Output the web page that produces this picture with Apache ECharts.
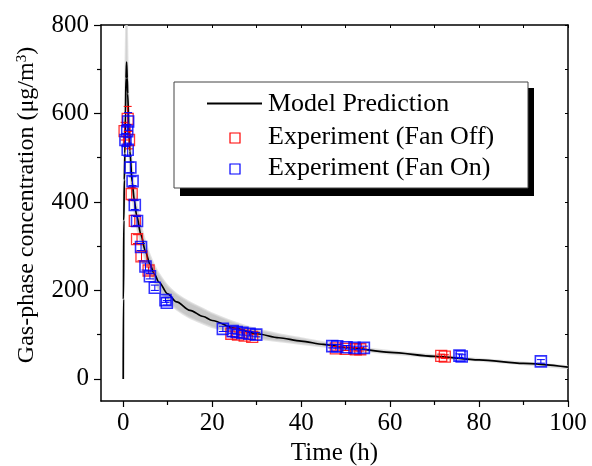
<!DOCTYPE html>
<html><head><meta charset="utf-8">
<script src="https://cdn.jsdelivr.net/npm/echarts@6/dist/echarts.min.js"></script>
<style>html,body{margin:0;padding:0;background:#fff}#c{width:592px;height:466px}</style>
</head><body><div id="c"></div>
<script>
// ---- data ----
const modelT = [0, 0.05, 0.13, 0.25, 0.37, 0.5, 0.62, 0.75, 0.9, 1.0, 1.25, 1.5, 2, 2.5, 3, 4, 5, 6, 7, 8, 10, 12, 15, 18, 20, 25, 30, 35, 40, 45, 50, 60, 70, 80, 90, 100];
const modelY = [0, 180, 358, 450, 510, 600, 680, 716, 680, 645, 575, 515, 445, 403, 370, 325, 288, 259, 237, 219, 192, 174, 155, 141, 132, 115, 102, 93, 85.5, 78, 71, 60, 51, 43, 35, 26.5];
const bandLo = [0, 150, 320, 410, 470, 560, 630, 670, 640, 600, 540, 482, 418, 378, 347, 305, 269, 241, 220, 202, 176, 157, 138, 125, 117, 103, 92, 85, 79, 73, 67, 57, 48.5, 41, 33, 24.5];
const bandHi = [0, 230, 420, 520, 600, 700, 780, 830, 760, 700, 615, 552, 475, 430, 395, 347, 309, 279, 256, 238, 210, 192, 173, 158, 148, 128, 112, 101, 92, 83, 75, 63, 53.5, 45, 37, 28.5];

const offT = [0.3, 1.0, 1.3, 1.9, 2.6, 3.1, 4.1, 5.7, 24.3, 25.8, 27.3, 29.0, 47.8, 50.0, 52.3, 53.3, 71.5, 72.3];
const offY = [560, 588, 540, 418, 357, 316, 277, 245, 102, 100, 98, 95, 69, 68, 67, 67, 52, 50.5];
const offErr = [20, 28, 20, 15, 12, 10, 10, 8, 6, 6, 6, 6, 4, 4, 4, 4, 4, 4];

const onT = [0.5, 0.9, 1.1, 1.0, 1.6, 2.1, 2.6, 3.1, 4.0, 5.0, 6.0, 7.1, 9.5, 9.8, 22.4, 24.6, 25.5, 26.8, 28.4, 29.9, 47.0, 48.1, 50.2, 52.0, 54.1, 75.6, 76.1, 93.9];
const onY = [540, 560, 582, 518, 478, 447, 393, 357, 298, 254, 232, 206, 178, 172, 113, 108, 106, 104, 102, 100, 74, 73.5, 71.5, 70, 70, 52.5, 50.5, 39.5];
const onErr = [15, 15, 20, 15, 12, 10, 10, 10, 8, 8, 6, 6, 5, 5, 6, 5, 5, 5, 5, 5, 4, 4, 4, 4, 4, 4, 4, 4];

const xMajor = [0, 20, 40, 60, 80, 100];
const xMinor = [10, 30, 50, 70, 90];
const xTop = [0, 10, 20, 30, 40, 50, 60, 70, 80, 90, 100];
const yMajor = [0, 200, 400, 600, 800];
const yMinor = [100, 300, 500, 700];
const yRight = [0, 100, 200, 300, 400, 500, 600, 700, 800];

const legendNames = ['Model Prediction', 'Experiment (Fan Off)', 'Experiment (Fan On)'];
// ---------------

const FONT = 'Liberation Serif';
const chart = echarts.init(document.getElementById('c'), null, {renderer: 'canvas'});

function errRender(color) {
  return function (params, api) {
    const x = api.value(0), y = api.value(1), e = api.value(2);
    const t = api.coord([x, y + e]), b = api.coord([x, y - e]);
    const hw = 4;
    const st = {stroke: color, lineWidth: 1, fill: null};
    return {type: 'group', children: [
      {type: 'line', shape: {x1: t[0], y1: t[1], x2: b[0], y2: b[1]}, style: st},
      {type: 'line', shape: {x1: t[0] - hw, y1: t[1], x2: t[0] + hw, y2: t[1]}, style: st},
      {type: 'line', shape: {x1: b[0] - hw, y1: b[1], x2: b[0] + hw, y2: b[1]}, style: st}
    ]};
  };
}

const axisLineStyle = {color: '#000', width: 1.5};
const option = {
  animation: false,
  backgroundColor: '#fff',
  grid: {left: 101, right: 24, top: 25, bottom: 65, containLabel: false, outerBoundsMode: 'none'},
  xAxis: [
    {type: 'value', min: -5, max: 100, position: 'bottom',
      axisLine: {show: true, onZero: false, lineStyle: axisLineStyle},
      axisTick: {show: true, customValues: xMajor, length: 6, lineStyle: {color: '#000', width: 1.2}},
      axisLabel: {customValues: xMajor, margin: 10, color: '#000', fontFamily: FONT, fontSize: 25},
      splitLine: {show: false},
      name: 'Time (h)', nameLocation: 'middle', nameGap: 40,
      nameTextStyle: {color: '#000', fontFamily: FONT, fontSize: 25}},
    {type: 'value', min: -5, max: 100, position: 'bottom',
      axisLine: {show: false, onZero: false},
      axisTick: {show: true, customValues: xMinor, length: 4, lineStyle: {color: '#000', width: 1.2}},
      axisLabel: {show: false}, splitLine: {show: false}},
    {type: 'value', min: -5, max: 100, position: 'top',
      axisLine: {show: true, onZero: false, lineStyle: axisLineStyle},
      axisTick: {show: true, inside: true, customValues: xTop, length: 3, lineStyle: {color: '#000', width: 1}},
      axisLabel: {show: false}, splitLine: {show: false}}
  ],
  yAxis: [
    {type: 'value', min: -50, max: 800, position: 'left',
      axisLine: {show: true, onZero: false, lineStyle: axisLineStyle},
      axisTick: {show: true, customValues: yMajor, length: 7, lineStyle: {color: '#000', width: 1.2}},
      axisLabel: {customValues: yMajor, margin: 12, color: '#000', fontFamily: FONT, fontSize: 25},
      splitLine: {show: false}},
    {type: 'value', min: -50, max: 800, position: 'left',
      axisLine: {show: false, onZero: false},
      axisTick: {show: true, customValues: yMinor, length: 4, lineStyle: {color: '#000', width: 1.2}},
      axisLabel: {show: false}, splitLine: {show: false}},
    {type: 'value', min: -50, max: 800, position: 'right',
      axisLine: {show: true, onZero: false, lineStyle: axisLineStyle},
      axisTick: {show: true, inside: true, customValues: yRight, length: 3, lineStyle: {color: '#000', width: 1}},
      axisLabel: {show: false}, splitLine: {show: false}}
  ],
  series: [
    {type: 'custom', name: 'band', xAxisIndex: 0, yAxisIndex: 0, clip: true, silent: true, z: 1,
      data: modelT.map((t, i) => [t, bandLo[i], bandHi[i]]),
      renderItem: function (params, api) {
        if (params.dataIndex !== 0) return null;
        const pts = [];
        for (let i = 0; i < modelT.length; i++) pts.push(api.coord([modelT[i], bandHi[i]]));
        for (let i = modelT.length - 1; i >= 0; i--) pts.push(api.coord([modelT[i], bandLo[i]]));
        return {type: 'polygon', shape: {points: pts, smooth: 0.2}, style: {fill: 'rgba(185,185,185,0.8)', stroke: 'rgba(215,215,215,0.7)', lineWidth: 2}};
      }},
    {type: 'line', name: legendNames[0], xAxisIndex: 0, yAxisIndex: 0, z: 3,
      data: modelT.map((t, i) => [t, modelY[i]]),
      showSymbol: false, symbol: 'none', smooth: 0.3, smoothMonotone: 'x', clip: true,
      lineStyle: {color: '#000', width: 1.7}},
    {type: 'custom', name: 'offErr', xAxisIndex: 0, yAxisIndex: 0, z: 4, clip: true,
      data: offT.map((t, i) => [t, offY[i], offErr[i]]), renderItem: errRender('#ff0000')},
    {type: 'scatter', name: legendNames[1], xAxisIndex: 0, yAxisIndex: 0, z: 4,
      data: offT.map((t, i) => [t, offY[i]]), symbol: 'rect', symbolSize: 11,
      itemStyle: {color: 'rgba(0,0,0,0)', borderColor: '#ff0000', borderWidth: 1.3}},
    {type: 'custom', name: 'onErr', xAxisIndex: 0, yAxisIndex: 0, z: 5, clip: true,
      data: onT.map((t, i) => [t, onY[i], onErr[i]]), renderItem: errRender('#0000ff')},
    {type: 'scatter', name: legendNames[2], xAxisIndex: 0, yAxisIndex: 0, z: 5,
      data: onT.map((t, i) => [t, onY[i]]), symbol: 'rect', symbolSize: 11,
      itemStyle: {color: 'rgba(0,0,0,0)', borderColor: '#0000ff', borderWidth: 1.6}}
  ],
  graphic: [
    {type: 'text', x: 27, y: 205, rotation: Math.PI / 2, z: 10,
      style: {text: 'Gas-phase concentration (μg/m{sup|3})', font: '24px "' + FONT + '"', fill: '#000',
        align: 'center', verticalAlign: 'middle',
        rich: {sup: {fontSize: 15, fontFamily: FONT, verticalAlign: 'top', fill: '#000', padding: [0, 0, 8, 0]}}}},
    {type: 'rect', z: 20, shape: {x: 180, y: 88, width: 354, height: 108}, style: {fill: '#000'}},
    {type: 'rect', z: 21, shape: {x: 174, y: 82, width: 354, height: 106}, style: {fill: '#fff', stroke: '#444', lineWidth: 1}},
    {type: 'line', z: 22, shape: {x1: 207, y1: 103.5, x2: 262, y2: 103.5}, style: {stroke: '#000', lineWidth: 1.8}},
    {type: 'text', z: 22, x: 268, y: 104, style: {text: legendNames[0], font: '26px "' + FONT + '"', fill: '#000', verticalAlign: 'middle'}},
    {type: 'rect', z: 22, shape: {x: 230, y: 133, width: 10, height: 10}, style: {fill: 'none', stroke: '#ff0000', lineWidth: 1.2}},
    {type: 'text', z: 22, x: 268, y: 137, style: {text: legendNames[1], font: '26px "' + FONT + '"', fill: '#000', verticalAlign: 'middle'}},
    {type: 'rect', z: 22, shape: {x: 230, y: 164, width: 10, height: 10}, style: {fill: 'none', stroke: '#0000ff', lineWidth: 1.2}},
    {type: 'text', z: 22, x: 268, y: 168, style: {text: legendNames[2], font: '26px "' + FONT + '"', fill: '#000', verticalAlign: 'middle'}}
  ]
};
chart.setOption(option);
</script></body></html>
